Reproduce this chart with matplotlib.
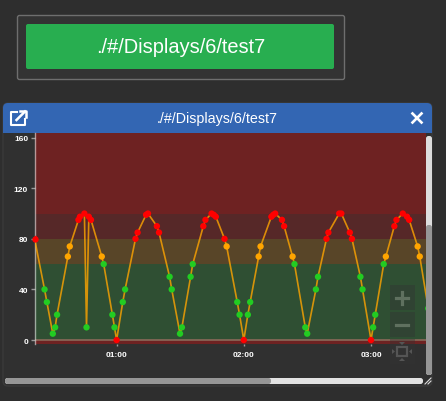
import matplotlib
matplotlib.use("Agg")
import matplotlib.pyplot as plt
from matplotlib.patches import Rectangle, FancyBboxPatch, Polygon

plt.rcParams['font.family'] = ['Liberation Sans', 'DejaVu Sans']

# ---- data -------------------------------------------------------------
minutes = [21.3, 26, 27.1, 29.9, 31, 31.9, 37, 37.9, 42, 42.7, 44.8, 45.8, 46.9, 47.9,
           53, 53.9, 58, 59, 60, 62.9, 64, 68.9, 69.9, 73.9, 74.8, 79, 80, 85, 86,
           89.9, 90.8, 94.9, 95.9, 100.9, 101.9, 104.8, 105.8, 106.8, 110.9, 111.9,
           116.9, 118, 120, 121.9, 123, 127, 127.9, 133, 133.9, 134.8, 138, 139,
           143, 143.9, 149, 149.9, 154, 155, 159, 159.9, 165, 166, 170, 171, 175, 176,
           180, 181, 182, 186, 187, 191, 192, 195, 197, 198, 202, 203, 207]
values = [80, 40, 30, 5, 10, 20, 66, 74, 95, 97.5, 100, 10, 97.5, 95,
          66, 60, 20, 10, 0, 30, 40, 80, 85, 99, 100, 90, 85, 50, 40,
          5, 10, 50, 60, 90, 95, 100, 99, 97.5, 80, 74,
          30, 20, 0, 20, 30, 66, 74, 97.5, 99, 100, 95, 90,
          66, 60, 10, 5, 40, 50, 80, 85, 100, 100, 85, 80, 50, 40,
          0, 10, 20, 60, 66, 90, 95, 100, 97.5, 95, 74, 66, 25]
bands = [(-3.4, 0, '#6e2222'), (0, 60, '#2f4f33'), (60, 80, '#584528'),
         (80, 99.4, '#562828'), (99.4, 163.7, '#6e2222')]
y_ticks = [0, 40, 80, 120, 160]
x_ticks = [60, 120, 180]
x_tick_labels = ['01:00', '02:00', '03:00']
title = './#/Displays/6/test7'


def point_colour(v):
    if v <= 0 or v >= 80:
        return '#ff0000'
    if v > 60:
        return '#ffa500'
    return '#22cc22'


W, H = 446, 402
fig = plt.figure(figsize=(W / 100, H / 100), dpi=100, facecolor='#2e2e2e')

# ---- page chrome, in pixel coordinates --------------------------------
bg = fig.add_axes([0, 0, 1, 1], zorder=0)
bg.set_xlim(0, W)
bg.set_ylim(H, 0)
bg.axis('off')


def box(ax, x0, y0, x1, y1, fc, ec='none', r=2, lw=1, **kw):
    ax.add_patch(FancyBboxPatch((x0 + r, y0 + r), x1 - x0 - 2 * r, y1 - y0 - 2 * r,
                                boxstyle=f'round,pad={r},rounding_size={r}',
                                fc=fc, ec=ec, lw=lw, **kw))


box(bg, 17.5, 16.5, 344.5, 80.5, '#333333', '#6e6e6e', r=2)
box(bg, 26, 25, 334, 70, '#28ae50', r=2)
bg.text(180.5, 47.5, title, color='white', fontsize=14.4, ha='center', va='center')

# window
box(bg, 3, 104, 432, 387, '#303030', '#3a3a3a', r=5)
box(bg, 3, 104, 432, 134, '#3366b3', r=5)
bg.add_patch(Rectangle((3, 125), 429, 9, fc='#3366b3', ec='none'))
bg.text(217.5, 119.5, title, color='white', fontsize=10.3, ha='center', va='center')
# external-link icon
bg.plot([17, 11, 11, 25, 25], [113, 113, 126, 126, 120], color='white', lw=1.5)
bg.plot([16.5, 25], [121, 112.5], color='white', lw=1.8)
bg.plot([19.5, 25.5, 25.5], [112, 112, 118], color='white', lw=1.8)
# close icon
bg.plot([412.5, 421.5], [114.5, 123.5], color='white', lw=1.9)
bg.plot([412.5, 421.5], [123.5, 114.5], color='white', lw=1.9)
# scrollbars
box(bg, 426, 137, 432, 376, '#dddddd', r=2.5)
box(bg, 426, 226, 432, 376, '#969696', r=2.5)
box(bg, 5, 379, 423, 385, '#e2e2e2', r=2.5)
box(bg, 5, 379, 271, 385, '#969696', r=2.5)
bg.plot([425, 431], [385, 379], color='#dddddd', lw=0.8)
bg.plot([428, 431], [385, 382], color='#dddddd', lw=0.8)

# ---- chart ------------------------------------------------------------
L, R, T, B = 35, 425.7, 134, 345.3
ax = fig.add_axes([L / W, 1 - B / H, (R - L) / W, (B - T) / H], zorder=1)
ax.set_facecolor('#303030')
ax.set_xlim(21.5, 205.8)
ax.set_ylim(-3.4, 163.7)
for lo, hi, c in bands:
    ax.axhspan(lo, hi, color=c, lw=0, zorder=1)
ax.axhline(0, color='#8a6a5a', lw=1.2, zorder=2)

ax.plot(minutes, values, color='#ffa500', lw=1.2, alpha=0.8, zorder=3)
ax.scatter(minutes, values, c=[point_colour(v) for v in values], s=21, lw=0, zorder=4)
# first point overhangs the left edge in the reference
ax.scatter(minutes[:1], values[:1], c=[point_colour(values[0])], s=21, lw=0, zorder=4, clip_on=False)

for s in ('top', 'right', 'bottom'):
    ax.spines[s].set_visible(False)
ax.spines['left'].set_color('#e8e8e8')
ax.spines['left'].set_alpha(0.6)
ax.spines['left'].set_linewidth(1)
ax.set_yticks(y_ticks)
ax.set_xticks(x_ticks)
ax.set_xticklabels(x_tick_labels)
ax.tick_params(axis='both', colors='white', labelsize=6, length=3, width=1, color='#999999', pad=2)
ax.tick_params(axis='x', length=1.5, pad=3)
for t in ax.get_xticklabels() + ax.get_yticklabels():
    t.set_fontweight('bold')

# ---- zoom controls ----------------------------------------------------
fg = fig.add_axes([0, 0, 1, 1], zorder=2)
fg.set_xlim(0, W)
fg.set_ylim(H, 0)
fg.axis('off')
fg.patch.set_alpha(0)
for y0 in (286, 313, 340):
    fg.add_patch(Rectangle((390, y0), 25, 25, fc='#333333', alpha=0.4, ec='none'))
icon = '#5f705f'
fg.plot([396, 408], [298.5, 298.5], color=icon, lw=2.3)
fg.plot([402, 402], [292.5, 304.5], color=icon, lw=2.3)
fg.plot([396, 408], [325.5, 325.5], color=icon, lw=2.3)
fg.add_patch(Rectangle((397, 348), 10, 9, fc='none', ec='#555555', lw=1.6))
fg.add_patch(Polygon([[402, 346], [399, 343], [405, 343]], fc='#555555'))
fg.add_patch(Polygon([[402, 359], [399, 362], [405, 362]], fc='#555555'))
fg.add_patch(Polygon([[395, 352.5], [392, 350], [392, 355]], fc='#555555'))
fg.add_patch(Polygon([[409, 352.5], [412, 350], [412, 355]], fc='#555555'))

fig.savefig('out.png', dpi=100, facecolor=fig.get_facecolor())
